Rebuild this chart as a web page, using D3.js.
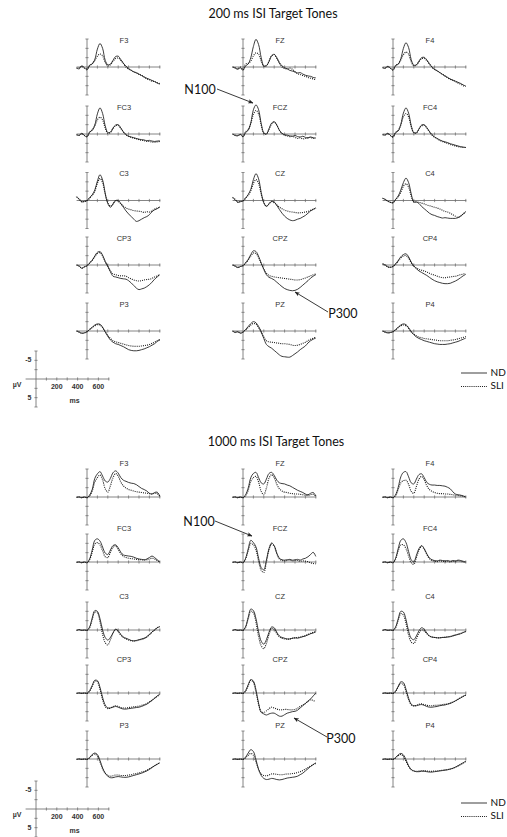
<!DOCTYPE html>
<html><head><meta charset="utf-8">
<script src="https://cdn.jsdelivr.net/npm/d3@7"></script>
<style>body{margin:0;background:#fff}svg{display:block}</style>
</head><body><svg id="c" width="507" height="837"></svg>
<script>
// ---- data ----
const times = [-100,-75,-50,-25,0,25,50,75,100,125,150,175,200,225,250,275,300,325,350,375,400,425,450,475,500,525,550,575,600,625,650,675,700];
const electrodes = ["F3","FZ","F4","FC3","FCZ","FC4","C3","CZ","C4","CP3","CPZ","CP4","P3","PZ","P4"];
const panelTitles = ["200 ms ISI Target Tones","1000 ms ISI Target Tones"];
const groups = ["ND","SLI"];
const calTickLabels = ["200","400","600"];
const calVoltLabels = ["-5","5"];

// amplitude in µV (negative plotted upward), one row per electrode
const nd200 = [
 [0.3,0.5,-0.3,0.2,0.8,-0.5,-0.8,-2.0,-4.8,-6.3,-5.0,-1.8,-0.6,-0.8,-1.8,-2.8,-2.9,-2.0,-1.0,-0.2,0.4,0.9,1.3,1.6,1.9,2.3,2.7,3.0,3.3,3.6,3.9,4.3,4.6],
 [0,0.3,0.6,0.2,0.9,-0.3,-0.8,-2.5,-5.5,-7.4,-6.0,-2.5,-0.3,-0.3,-1.5,-3.0,-3.4,-2.5,-1.2,-0.3,0.2,0.5,0.9,1.1,1.3,1.6,1.5,1.9,2.2,2.4,2.5,2.8,2.9],
 [0.2,0.4,-0.2,0.3,0.9,-0.4,-0.7,-2.2,-5.0,-6.5,-5.2,-2.0,-0.5,-0.6,-1.6,-2.5,-2.6,-1.9,-0.9,0.0,0.6,1.0,1.5,2.0,2.4,2.8,3.2,3.5,3.8,4.1,4.4,4.8,5.1],
 [0.2,0.4,-0.2,0.4,0.8,-0.5,-1.0,-2.4,-5.4,-7.0,-5.5,-2.2,-0.4,-0.5,-1.6,-2.4,-2.5,-1.6,-0.6,0.2,0.6,0.8,1.0,1.2,1.4,1.5,1.6,1.8,1.7,1.9,2.0,1.9,1.8],
 [0,0.4,0.5,0.1,0.8,-0.4,-1.0,-3.0,-6.5,-7.8,-6.5,-2.8,-0.3,0.0,-1.4,-2.9,-3.3,-2.4,-1.0,-0.2,0.2,0.3,0.5,0.6,0.4,0.7,0.8,0.6,0.9,1.0,0.8,1.0,1.1],
 [0.2,0.3,-0.2,0.4,0.9,-0.4,-0.8,-2.6,-5.6,-7.0,-5.6,-2.3,-0.4,-0.3,-1.4,-2.4,-2.5,-1.7,-0.7,0.2,0.8,1.2,1.6,1.9,2.1,2.3,2.6,2.8,3.0,3.2,3.4,3.5,3.6],
 [-1.0,-0.3,0.4,0.2,0.0,-0.8,-1.5,-2.8,-5.2,-6.9,-5.5,-2.0,0.8,1.8,1.0,0.0,0.0,0.8,1.8,2.8,3.6,4.3,5.0,5.6,5.4,5.0,4.6,4.3,3.8,3.0,2.5,2.2,1.7],
 [-0.8,-0.2,0.5,0.3,0.1,-0.7,-1.6,-3.0,-5.6,-7.2,-5.8,-2.2,0.6,1.6,0.9,0.2,0.4,1.3,2.4,3.4,4.2,4.8,5.2,5.4,5.3,5.0,4.8,4.4,4.0,3.4,2.8,2.4,2.0],
 [-0.6,-0.3,0.2,0.5,0.6,-0.3,-1.2,-2.8,-4.8,-6.0,-4.8,-1.8,0.4,0.4,0.8,1.6,2.2,2.8,3.4,3.8,4.0,4.3,4.5,4.7,4.6,4.7,4.8,4.8,4.8,4.6,4.2,3.6,3.0],
 [0.0,0.3,0.9,0.5,0.2,-0.5,-1.3,-2.4,-3.4,-3.6,-2.6,-1.0,0.3,1.8,3.0,3.2,3.4,3.6,3.7,3.8,4.2,4.8,5.5,6.2,6.6,6.4,6.2,5.8,5.3,4.6,3.8,3.2,2.6],
 [0.0,0.3,0.7,0.4,0.2,-0.6,-1.5,-2.8,-3.8,-3.6,-2.3,-0.5,1.2,2.6,3.3,3.6,4.0,4.6,5.2,5.8,6.3,6.6,6.8,6.9,6.8,6.5,6.0,5.4,4.8,4.2,3.5,3.0,2.6],
 [-0.3,0.0,0.5,0.6,0.4,-0.3,-1.2,-2.2,-2.8,-3.0,-2.2,-0.8,0.3,1.0,1.6,2.0,2.4,2.8,3.3,3.8,4.2,4.5,4.7,4.9,5.0,5.0,4.9,4.6,4.3,3.9,3.4,2.9,2.5],
 [0.0,0.3,0.6,0.5,0.2,-0.4,-1.0,-1.6,-1.9,-1.8,-1.0,0.2,1.4,2.4,3.0,3.4,3.6,3.9,4.2,4.6,5.0,5.2,5.3,5.3,5.2,5.0,4.8,4.5,4.2,3.8,3.4,2.8,2.4],
 [0.0,0.4,0.2,0.6,0.3,-0.4,-1.2,-2.0,-2.5,-2.2,-1.2,0.2,2.0,3.6,4.2,4.6,5.2,5.8,6.4,6.8,6.9,7.0,7.0,6.6,6.1,5.6,5.0,4.5,4.0,3.2,2.6,2.2,1.9],
 [0.0,0.3,0.5,0.4,0.2,-0.4,-1.0,-1.6,-1.9,-1.7,-0.9,0.2,1.0,1.6,2.0,2.3,2.6,2.8,3.0,3.2,3.4,3.5,3.6,3.6,3.6,3.5,3.4,3.2,3.0,2.8,2.5,2.2,1.9]
];
const sli200 = [
 [0.3,0.2,-0.2,0.3,0.5,-0.3,-0.9,-1.8,-2.9,-3.5,-3.0,-1.2,-0.3,-0.6,-1.5,-2.3,-2.4,-1.8,-0.9,0.0,0.6,0.9,1.3,1.5,2.0,2.2,2.7,3.2,3.4,3.8,3.9,4.2,4.4],
 [0,0.2,0.5,0.0,0.7,-0.8,-1.0,-1.6,-3.0,-3.8,-3.4,-1.6,-0.2,-0.4,-1.5,-3.0,-3.3,-2.3,-1.0,0.0,0.4,0.5,0.3,0.6,1.3,1.8,2.0,2.3,2.5,2.8,3.0,3.2,3.4],
 [0.2,0.2,-0.1,0.3,0.6,-0.4,-0.9,-1.9,-3.3,-4.0,-3.4,-1.4,-0.3,-0.5,-1.4,-2.2,-2.3,-1.7,-0.8,0.1,0.7,1.1,1.5,1.9,2.4,2.9,3.3,3.6,3.9,4.3,4.6,5.0,5.2],
 [0.2,0.3,-0.1,0.4,0.6,-0.5,-1.1,-2.2,-3.8,-4.5,-3.8,-1.6,-0.2,-0.4,-1.4,-2.2,-2.3,-1.5,-0.5,0.2,0.6,0.9,1.1,1.3,1.5,1.7,1.8,2.0,2.0,2.2,2.2,2.1,2.0],
 [0,0.3,0.4,0.1,0.6,-0.6,-1.2,-2.8,-5.3,-6.3,-5.4,-2.4,-0.2,0.0,-1.2,-2.7,-3.2,-2.4,-1.0,-0.1,0.3,0.5,0.7,0.6,0.9,1.2,1.0,1.3,1.2,1.1,0.9,1.2,1.0],
 [0.2,0.2,-0.1,0.4,0.7,-0.4,-1.0,-2.4,-4.6,-5.5,-4.6,-1.9,-0.3,-0.3,-1.3,-2.2,-2.3,-1.6,-0.6,0.3,0.9,1.3,1.7,2.0,2.3,2.5,2.8,3.0,3.2,3.4,3.5,3.6,3.6],
 [-1.0,-0.4,0.3,0.3,0.1,-0.6,-1.4,-2.5,-4.6,-5.9,-4.8,-1.6,0.6,1.5,0.9,0.0,0.2,0.9,1.5,2.0,2.3,2.5,2.7,2.8,2.9,3.0,3.2,3.0,3.1,2.8,2.3,2.0,1.8],
 [-0.8,-0.3,0.4,0.3,0.2,-0.6,-1.4,-2.6,-4.6,-5.6,-4.6,-1.6,0.6,1.5,0.9,0.3,0.6,1.2,1.8,2.2,2.6,2.8,3.0,3.1,3.2,3.3,3.3,3.2,3.1,2.9,2.6,2.3,2.0],
 [-0.6,-0.3,0.2,0.5,0.6,-0.2,-1.0,-2.2,-3.8,-4.5,-3.6,-1.2,0.4,0.4,0.5,0.7,0.9,1.2,1.4,1.6,1.8,2.0,2.3,2.6,2.9,3.1,3.4,3.8,4.2,4.5,4.2,3.6,3.0],
 [0.0,0.3,0.8,0.5,0.2,-0.5,-1.2,-2.2,-3.1,-3.3,-2.4,-0.8,0.4,1.6,2.4,2.6,2.8,2.9,2.9,3.0,3.4,3.7,4.0,4.2,4.3,4.2,4.0,3.9,3.8,3.6,3.2,2.9,2.6],
 [0.0,0.3,0.6,0.4,0.2,-0.5,-1.3,-2.4,-3.2,-3.1,-2.0,-0.4,1.0,2.2,2.8,3.0,3.2,3.3,3.4,3.5,3.6,3.7,3.8,3.9,4.0,4.0,3.9,3.7,3.5,3.2,2.9,2.6,2.4],
 [-0.3,0.0,0.5,0.6,0.4,-0.2,-1.0,-1.9,-2.4,-2.5,-1.8,-0.6,0.3,0.8,1.2,1.4,1.6,1.9,2.2,2.5,2.7,3.0,3.2,3.4,3.4,3.3,3.2,3.1,3.0,2.8,2.6,2.4,2.3],
 [0.0,0.3,0.6,0.5,0.2,-0.4,-0.9,-1.4,-1.7,-1.6,-0.9,0.2,1.2,2.0,2.6,2.9,3.1,3.3,3.5,3.7,3.9,4.0,4.1,4.1,4.1,4.0,3.9,3.8,3.6,3.3,3.0,2.6,2.3],
 [0.0,0.3,0.2,0.5,0.3,-0.3,-0.9,-1.6,-2.0,-1.8,-0.9,0.3,1.6,2.6,2.9,3.0,3.1,3.2,3.3,3.4,3.4,3.5,3.6,3.8,3.9,3.8,3.6,3.3,3.0,2.6,2.2,1.9,1.7],
 [0.0,0.3,0.5,0.4,0.2,-0.3,-0.9,-1.4,-1.6,-1.4,-0.7,0.2,0.8,1.3,1.6,1.8,2.0,2.1,2.2,2.3,2.4,2.5,2.6,2.6,2.6,2.6,2.5,2.4,2.3,2.1,1.9,1.7,1.5]
];
const nd1000 = [
 [0.1,0.0,0.2,0.0,0.2,-0.5,-2.0,-5.0,-6.2,-6.8,-5.6,-4.3,-4.0,-5.0,-6.5,-7.0,-6.4,-5.2,-4.5,-4.2,-3.9,-3.7,-3.6,-3.3,-2.8,-2.3,-2.0,-1.6,-1.0,-0.8,-1.2,-1.3,-0.2],
 [0.1,0.0,0.2,0.0,0.2,-0.6,-2.4,-5.2,-6.3,-6.6,-5.2,-3.8,-3.5,-4.8,-6.3,-6.6,-5.8,-4.5,-3.8,-3.6,-3.5,-3.2,-3.0,-2.6,-2.2,-1.8,-1.5,-1.2,-0.8,-0.6,-1.0,-1.2,-0.3],
 [0.1,0.0,0.2,0.0,0.2,-0.6,-2.6,-5.4,-6.6,-6.8,-5.4,-3.8,-3.5,-4.8,-6.0,-6.2,-5.2,-3.9,-3.4,-3.2,-3.2,-3.1,-3.1,-3.0,-2.9,-2.6,-2.2,-1.4,-0.8,-0.6,-0.5,-0.3,0.0],
 [0.1,0.0,0.2,0.0,0.2,-0.8,-3.2,-5.8,-6.2,-5.6,-4.0,-2.4,-2.0,-3.2,-4.4,-4.6,-3.8,-2.6,-1.9,-1.7,-1.6,-1.5,-1.3,-1.0,-0.8,-0.7,-0.6,-0.8,-1.2,-1.6,-1.2,-0.6,0.0],
 [0.1,0.0,0.2,0.0,0.2,-1.0,-3.5,-5.8,-5.2,-4.0,-1.0,1.5,2.1,-0.5,-3.6,-5.1,-4.4,-2.4,-1.0,-0.6,-0.5,-0.6,-0.7,-0.5,-0.6,-0.7,-0.5,-0.8,-1.0,-1.4,-2.0,-2.6,-1.5],
 [0.1,0.0,0.2,0.0,0.2,-1.0,-3.6,-5.8,-6.2,-5.2,-2.8,-0.6,0.0,-1.8,-3.6,-4.4,-3.6,-2.2,-1.1,-0.6,-0.4,-0.3,-0.5,-0.4,-0.3,-0.4,-0.2,-0.4,-0.3,-0.5,-0.4,-0.2,0.0],
 [0.1,-0.1,0.1,0.0,0.1,-0.8,-3.2,-5.2,-5.0,-3.0,0.0,2.0,2.7,2.0,0.8,-0.2,0.2,1.2,1.9,2.2,2.5,2.8,2.9,2.8,2.6,2.4,2.2,1.8,1.2,0.5,0.0,-0.6,-0.9],
 [0.1,-0.1,0.1,0.0,0.1,-0.9,-3.4,-5.6,-5.2,-3.0,0.5,3.0,3.8,2.6,0.6,-0.8,-0.6,0.6,1.6,2.0,2.2,2.4,2.4,2.2,2.1,2.2,2.0,1.8,1.6,1.3,1.0,0.8,0.5],
 [0.1,-0.1,0.1,0.0,0.1,-0.8,-3.0,-5.0,-4.8,-2.8,0.3,2.2,2.6,1.6,0.2,-0.6,-0.2,0.8,1.6,1.9,2.0,2.1,2.1,2.0,2.0,1.9,1.8,1.6,1.4,1.2,1.0,0.7,0.4],
 [0.1,0.0,0.1,0.0,0.1,-0.6,-2.0,-3.4,-3.3,-1.5,1.2,3.2,4.0,4.0,3.8,3.6,3.8,4.1,4.3,4.3,4.2,4.1,4.0,3.9,3.8,3.6,3.3,3.0,2.5,2.0,1.4,0.8,0.3],
 [0.1,0.0,0.1,0.0,0.1,-0.6,-2.2,-3.6,-3.2,-0.8,2.8,5.2,5.6,5.9,5.6,5.4,5.4,5.8,6.2,6.2,5.8,5.4,5.2,5.0,4.9,4.6,4.0,3.4,2.8,2.2,1.6,0.8,0.0],
 [0.1,0.0,0.1,0.0,0.1,-0.5,-1.8,-3.0,-2.8,-1.0,1.4,3.0,3.4,3.4,3.2,3.1,3.3,3.6,3.8,3.8,3.7,3.6,3.4,3.3,3.2,3.0,2.8,2.5,2.1,1.7,1.3,0.9,0.5],
 [0.1,0.0,0.1,0.0,0.1,-0.4,-1.2,-1.6,-1.2,0.4,2.4,3.8,4.6,5.0,5.0,4.8,4.7,4.8,4.9,4.9,4.8,4.6,4.4,4.2,4.0,3.8,3.5,3.2,2.8,2.3,1.8,1.4,1.0],
 [0.1,0.0,0.1,0.0,0.1,-0.5,-1.6,-2.5,-2.0,0.2,2.8,4.4,5.2,5.5,5.4,5.2,5.3,5.5,5.6,5.5,5.3,5.1,5.0,4.9,4.8,4.6,4.2,3.8,3.2,2.6,2.0,1.5,1.0],
 [0.1,0.0,0.1,0.0,0.1,-0.4,-1.1,-1.5,-1.1,0.2,1.8,2.8,3.2,3.4,3.4,3.3,3.3,3.4,3.5,3.5,3.4,3.3,3.2,3.1,3.0,2.9,2.7,2.5,2.2,1.8,1.4,1.0,0.6]
];
const sli1000 = [
 [0.1,0.0,0.2,0.0,0.2,-0.3,-1.6,-4.0,-5.2,-5.9,-4.6,-2.2,-1.3,-3.0,-5.2,-6.3,-5.6,-4.0,-3.0,-2.4,-2.0,-1.8,-1.6,-1.4,-1.3,-1.2,-1.1,-1.0,-0.9,-0.8,-1.0,-0.9,-0.2],
 [0.1,0.0,0.2,0.0,0.2,-0.4,-1.8,-4.2,-5.2,-5.5,-4.0,-1.5,-0.6,-2.4,-5.0,-6.0,-5.2,-3.4,-2.2,-1.6,-1.3,-1.2,-1.0,-0.9,-0.8,-0.8,-0.7,-0.6,-0.5,-0.4,-0.6,-0.7,-0.2],
 [0.1,0.0,0.2,0.0,0.2,-0.4,-2.0,-3.8,-4.4,-4.5,-3.4,-1.5,-1.0,-2.8,-4.8,-5.5,-4.6,-3.0,-2.0,-1.5,-1.2,-1.0,-0.9,-0.9,-0.8,-0.8,-0.7,-0.6,-0.5,-0.4,-0.3,-0.2,0.0],
 [0.1,0.0,0.2,0.0,0.2,-0.6,-2.6,-4.8,-5.2,-4.6,-3.0,-1.4,-1.2,-2.6,-4.0,-4.3,-3.4,-2.2,-1.5,-1.2,-1.0,-0.9,-0.8,-0.7,-0.6,-0.6,-0.5,-0.6,-0.8,-1.0,-0.8,-0.4,0.0],
 [0.1,0.0,0.2,0.0,0.2,-0.8,-3.0,-5.0,-4.6,-3.2,-0.2,2.2,2.8,0.0,-3.2,-4.8,-4.2,-2.2,-0.8,-0.4,-0.3,-0.4,-0.5,-0.3,-0.4,-0.4,-0.2,-0.3,-0.2,-0.1,0.2,0.4,0.5],
 [0.1,0.0,0.2,0.0,0.2,-0.8,-3.0,-4.6,-4.6,-3.6,-1.6,0.2,0.6,-1.2,-3.2,-4.2,-3.4,-2.0,-0.9,-0.4,-0.2,-0.1,-0.3,-0.2,-0.1,-0.2,0.0,-0.2,-0.1,-0.3,-0.2,0.0,0.1],
 [0.1,-0.1,0.1,0.0,0.1,-0.6,-2.8,-4.8,-4.6,-2.2,1.2,3.4,4.0,2.6,0.8,-0.2,0.4,1.4,2.0,2.4,2.7,2.9,3.0,2.9,2.7,2.5,2.3,1.9,1.3,0.6,0.0,-0.6,-0.9],
 [0.1,-0.1,0.1,0.0,0.1,-0.7,-3.0,-5.0,-4.6,-2.0,1.8,4.2,5.0,3.6,1.2,-0.4,-0.2,1.0,1.8,2.2,2.4,2.5,2.4,2.2,2.1,2.0,1.9,1.7,1.5,1.2,0.9,0.6,0.4],
 [0.1,-0.1,0.1,0.0,0.1,-0.6,-2.6,-4.4,-4.0,-1.8,1.4,3.2,3.6,2.4,0.8,0.0,0.2,1.0,1.6,1.9,2.0,2.1,2.1,2.0,1.9,1.8,1.7,1.5,1.3,1.1,0.9,0.6,0.4],
 [0.1,0.0,0.1,0.0,0.1,-0.5,-1.8,-3.2,-3.0,-1.0,1.8,3.6,4.2,4.0,3.6,3.4,3.6,3.9,4.0,4.0,3.9,3.8,3.7,3.6,3.5,3.3,3.1,2.8,2.4,1.9,1.4,0.9,0.5],
 [0.1,0.0,0.1,0.0,0.1,-0.5,-2.0,-3.4,-2.8,-0.2,3.0,5.0,5.2,4.8,4.2,3.8,4.0,4.3,4.5,4.5,4.4,4.4,4.5,4.5,4.4,4.1,3.6,3.2,2.8,2.2,1.8,2.0,2.3],
 [0.1,0.0,0.1,0.0,0.1,-0.4,-1.6,-2.6,-2.3,-0.4,1.8,3.2,3.5,3.3,3.0,2.9,3.1,3.3,3.4,3.4,3.3,3.3,3.2,3.1,3.0,2.9,2.7,2.4,2.1,1.7,1.3,0.9,0.6],
 [0.1,0.0,0.1,0.0,0.1,-0.3,-1.0,-1.3,-0.8,0.8,2.6,3.8,4.4,4.6,4.5,4.3,4.3,4.4,4.4,4.4,4.3,4.2,4.0,3.9,3.7,3.5,3.3,3.0,2.6,2.2,1.8,1.4,1.0],
 [0.1,0.0,0.1,0.0,0.1,-0.3,-1.0,-1.5,-1.0,0.8,2.8,4.0,4.4,4.5,4.3,4.0,4.0,4.1,4.2,4.2,4.1,4.0,4.0,3.9,3.8,3.6,3.4,3.1,2.7,2.3,1.9,1.5,1.2],
 [0.1,0.0,0.1,0.0,0.1,-0.3,-0.9,-1.2,-0.7,0.6,2.0,2.9,3.2,3.3,3.2,3.1,3.1,3.2,3.3,3.3,3.2,3.2,3.1,3.0,2.9,2.8,2.7,2.5,2.2,1.9,1.5,1.1,0.7]
];

// ---- layout ----
const svg = d3.select("#c");
const colX = [87, 243, 393];
const rowY = [[67, 134, 200.5, 265, 331], [497, 562, 630, 693, 759]];
const x = d3.scaleLinear().domain([-100, 700]).range([-10.4, 72.8]);
const y = d3.scaleLinear().domain([-7.5, 7.5]).range([-28, 28]);
const xTicks = [100,200,300,400,500,600,700];
const yTicks = [-7.5,-5,-2.5,2.5,5,7.5];
const AX = "#666", LN = "#1a1a1a";
const line = d3.line().x((d,i)=>x(times[i])).y(d=>y(d)).curve(d3.curveCatmullRom.alpha(0.5));

function axes(g){
  g.append("line").attr("x1",x(-100)).attr("x2",x(700)+0.5).attr("y1",0).attr("y2",0).attr("stroke",AX).attr("stroke-width",0.8);
  g.append("line").attr("x1",x(0)).attr("x2",x(0)).attr("y1",y(-7.5)).attr("y2",y(7.5)).attr("stroke",AX).attr("stroke-width",0.8);
  g.selectAll(".xt").data(xTicks).join("line").attr("x1",d=>x(d)).attr("x2",d=>x(d)).attr("y1",-1.6).attr("y2",1.6).attr("stroke",AX).attr("stroke-width",0.7);
  g.selectAll(".yt").data(yTicks).join("line").attr("x1",-1.6).attr("x2",1.6).attr("y1",d=>y(d)).attr("y2",d=>y(d)).attr("stroke",AX).attr("stroke-width",0.7);
}

function plot(px, py, name, nd, sli, labOff){
  const g = svg.append("g").attr("transform",`translate(${colX[px]},${py})`);
  axes(g);
  g.append("path").attr("d",line(sli)).attr("fill","none").attr("stroke",LN).attr("stroke-width",1.1).attr("stroke-dasharray","1,1.1");
  g.append("path").attr("d",line(nd)).attr("fill","none").attr("stroke",LN).attr("stroke-width",0.85);
  g.append("text").attr("x",37).attr("y",-labOff).attr("text-anchor","middle").attr("dominant-baseline","middle")
    .attr("font-family","Liberation Sans, Arial, sans-serif").attr("font-size",7.5).attr("fill","#333").text(name);
}

const data = [[nd200, sli200],[nd1000, sli1000]];
const titleY = [15, 443];
const titleX = [273, 276];
const calY = [379, 809];
const legY = [373, 803];
const n100 = [[217,89,253,103],[215,521,252,536]];
const p300 = [[328,312,295,292],[327,737,294,718]];
const p300Text = [[343,315],[341,740]];
const n100Text = [[200,91],[199,523]];

svg.append("defs").append("marker").attr("id","ah").attr("viewBox","0 0 10 10").attr("refX",9).attr("refY",5)
  .attr("markerWidth",6).attr("markerHeight",6).attr("orient","auto")
  .append("path").attr("d","M0,1 L10,5 L0,9 L2.5,5 Z").attr("fill","#222");

[0,1].forEach(p=>{
  svg.append("text").attr("x",titleX[p]).attr("y",titleY[p]).attr("text-anchor","middle").attr("dominant-baseline","middle")
    .attr("font-family","Lato, Open Sans, sans-serif").attr("font-size",12.5).attr("fill","#111").text(panelTitles[p]);
  electrodes.forEach((e,i)=>{
    plot(i%3, rowY[p][Math.floor(i/3)], e, data[p][0][i], data[p][1][i], p===0?26:33);
  });
  // calibration
  const cg = svg.append("g").attr("transform",`translate(36,${calY[p]})`);
  axes(cg);
  const f = "Liberation Sans, Arial, sans-serif";
  cg.selectAll(".cl").data([200,400,600]).join("text").attr("x",d=>x(d)).attr("y",8).attr("text-anchor","middle").attr("dominant-baseline","middle")
    .attr("font-family",f).attr("font-size",7).attr("font-weight","bold").attr("fill","#333").text((d,i)=>calTickLabels[i]);
  cg.selectAll(".vl").data([-5,5]).join("text").attr("x",-4.5).attr("y",d=>y(d)).attr("text-anchor","end").attr("dominant-baseline","middle")
    .attr("font-family",f).attr("font-size",7).attr("font-weight","bold").attr("fill","#333").text((d,i)=>calVoltLabels[i]);
  cg.append("text").attr("x",-19).attr("y",6).attr("text-anchor","middle").attr("dominant-baseline","middle")
    .attr("font-family",f).attr("font-size",7).attr("font-weight","bold").attr("fill","#333").text("µV");
  cg.append("text").attr("x",x(370)).attr("y",22.5).attr("text-anchor","middle").attr("dominant-baseline","middle")
    .attr("font-family",f).attr("font-size",7).attr("font-weight","bold").attr("fill","#333").text("ms");
  // legend
  const lg = svg.append("g").attr("transform",`translate(461,${legY[p]})`);
  groups.forEach((gname,k)=>{
    lg.append("line").attr("x1",0).attr("x2",26).attr("y1",k*13.5).attr("y2",k*13.5).attr("stroke",LN)
      .attr("stroke-width",k?1.1:0.85).attr("stroke-dasharray",k?"1,1.1":null);
    lg.append("text").attr("x",29.5).attr("y",k*13.5).attr("dominant-baseline","middle").attr("font-family","Lato, Open Sans, sans-serif")
      .attr("font-size",10).attr("fill","#111").text(gname);
  });
  // annotations
  svg.append("text").attr("x",n100Text[p][0]).attr("y",n100Text[p][1]).attr("text-anchor","middle").attr("dominant-baseline","middle")
    .attr("font-family","Lato, Open Sans, sans-serif").attr("font-size",12.5).attr("fill","#111").text("N100");
  svg.append("line").attr("x1",n100[p][0]).attr("y1",n100[p][1]).attr("x2",n100[p][2]).attr("y2",n100[p][3]).attr("stroke","#222").attr("stroke-width",0.9).attr("marker-end","url(#ah)");
  svg.append("text").attr("x",p300Text[p][0]).attr("y",p300Text[p][1]).attr("text-anchor","middle").attr("dominant-baseline","middle")
    .attr("font-family","Lato, Open Sans, sans-serif").attr("font-size",12.5).attr("fill","#111").text("P300");
  svg.append("line").attr("x1",p300[p][0]).attr("y1",p300[p][1]).attr("x2",p300[p][2]).attr("y2",p300[p][3]).attr("stroke","#222").attr("stroke-width",0.9).attr("marker-end","url(#ah)");
});
</script></body></html>
